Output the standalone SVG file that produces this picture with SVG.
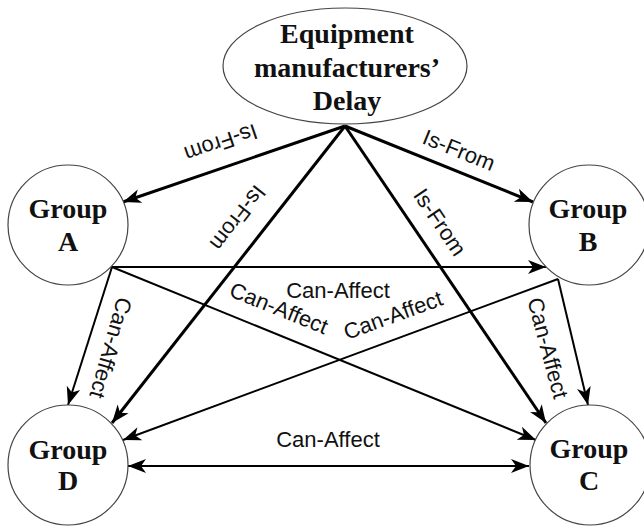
<svg xmlns="http://www.w3.org/2000/svg" width="644" height="526" viewBox="0 0 644 526">
<style>
.node{fill:#fff;stroke:#444;stroke-width:1.2}
.nt{font-family:"Liberation Serif","Times New Roman",serif;font-weight:bold;font-size:28px;text-anchor:middle;fill:#111}
.lbl{font-family:"Liberation Sans",Arial,sans-serif;font-size:22px;text-anchor:middle;fill:#111}
.e1{fill:none;stroke:#000;stroke-width:3}
.e2{fill:none;stroke:#000;stroke-width:2}
</style>
<defs>
<marker id="ah" markerUnits="userSpaceOnUse" markerWidth="20" markerHeight="16" refX="18" refY="7" orient="auto-start-reverse" viewBox="0 0 20 14">
<path d="M0,0 L18,7 L0,14 L5,7 z" fill="#000"/>
</marker>
</defs>
<rect width="644" height="526" fill="#fff"/>
<g id="connectors">
<line class="e1" x1="345" y1="126" x2="123" y2="202" marker-end="url(#ah)"/>
<line class="e1" x1="345" y1="126" x2="533" y2="202" marker-end="url(#ah)"/>
<line class="e1" x1="345" y1="126" x2="112" y2="423" marker-end="url(#ah)"/>
<line class="e1" x1="345" y1="126" x2="546" y2="423" marker-end="url(#ah)"/>
<line class="e2" x1="112" y1="267" x2="546" y2="267" marker-end="url(#ah)"/>
<line class="e2" x1="112" y1="267" x2="536" y2="440" marker-end="url(#ah)"/>
<line class="e2" x1="112" y1="267" x2="68" y2="405" marker-end="url(#ah)"/>
<line class="e2" x1="558" y1="279" x2="123" y2="440" marker-end="url(#ah)"/>
<line class="e2" x1="558" y1="279" x2="588" y2="405" marker-end="url(#ah)"/>
<line class="e2" x1="128" y1="466" x2="529" y2="466" marker-start="url(#ah)" marker-end="url(#ah)"/>
<text class="lbl" transform="translate(221,143) rotate(161)" dy="0.35em">Is-From</text>
<text class="lbl" transform="translate(459,150) rotate(22)" dy="0.35em">Is-From</text>
<text class="lbl" transform="translate(238,218) rotate(128)" dy="0.35em">Is-From</text>
<text class="lbl" transform="translate(440,222) rotate(56)" dy="0.35em">Is-From</text>
<text class="lbl" x="338" y="298">Can-Affect</text>
<text class="lbl" transform="translate(279,308) rotate(22)" dy="0.35em">Can-Affect</text>
<text class="lbl" transform="translate(393,315) rotate(-20)" dy="0.35em">Can-Affect</text>
<text class="lbl" transform="translate(111,348) rotate(106)" dy="0.35em">Can-Affect</text>
<text class="lbl" transform="translate(548,348) rotate(75)" dy="0.35em">Can-Affect</text>
<text class="lbl" x="328" y="447">Can-Affect</text>
</g>
<g id="delay">
<ellipse class="node" cx="345" cy="66" rx="122" ry="58"/>
<text class="nt" x="347" y="43">Equipment</text>
<text class="nt" x="347" y="77">manufacturers’</text>
<text class="nt" x="347" y="110">Delay</text>
</g>
<g id="groupA">
<circle class="node" cx="68" cy="225" r="60"/>
<text class="nt" x="68" y="218">Group</text>
<text class="nt" x="68" y="251">A</text>
</g>
<g id="groupB">
<circle class="node" cx="589" cy="225" r="60"/>
<text class="nt" x="588" y="218">Group</text>
<text class="nt" x="588" y="251">B</text>
</g>
<g id="groupD">
<circle class="node" cx="68" cy="465" r="60"/>
<text class="nt" x="68" y="459">Group</text>
<text class="nt" x="68" y="490">D</text>
</g>
<g id="groupC">
<circle class="node" cx="590" cy="465" r="60"/>
<text class="nt" x="589" y="458">Group</text>
<text class="nt" x="589" y="490">C</text>
</g>
</svg>
